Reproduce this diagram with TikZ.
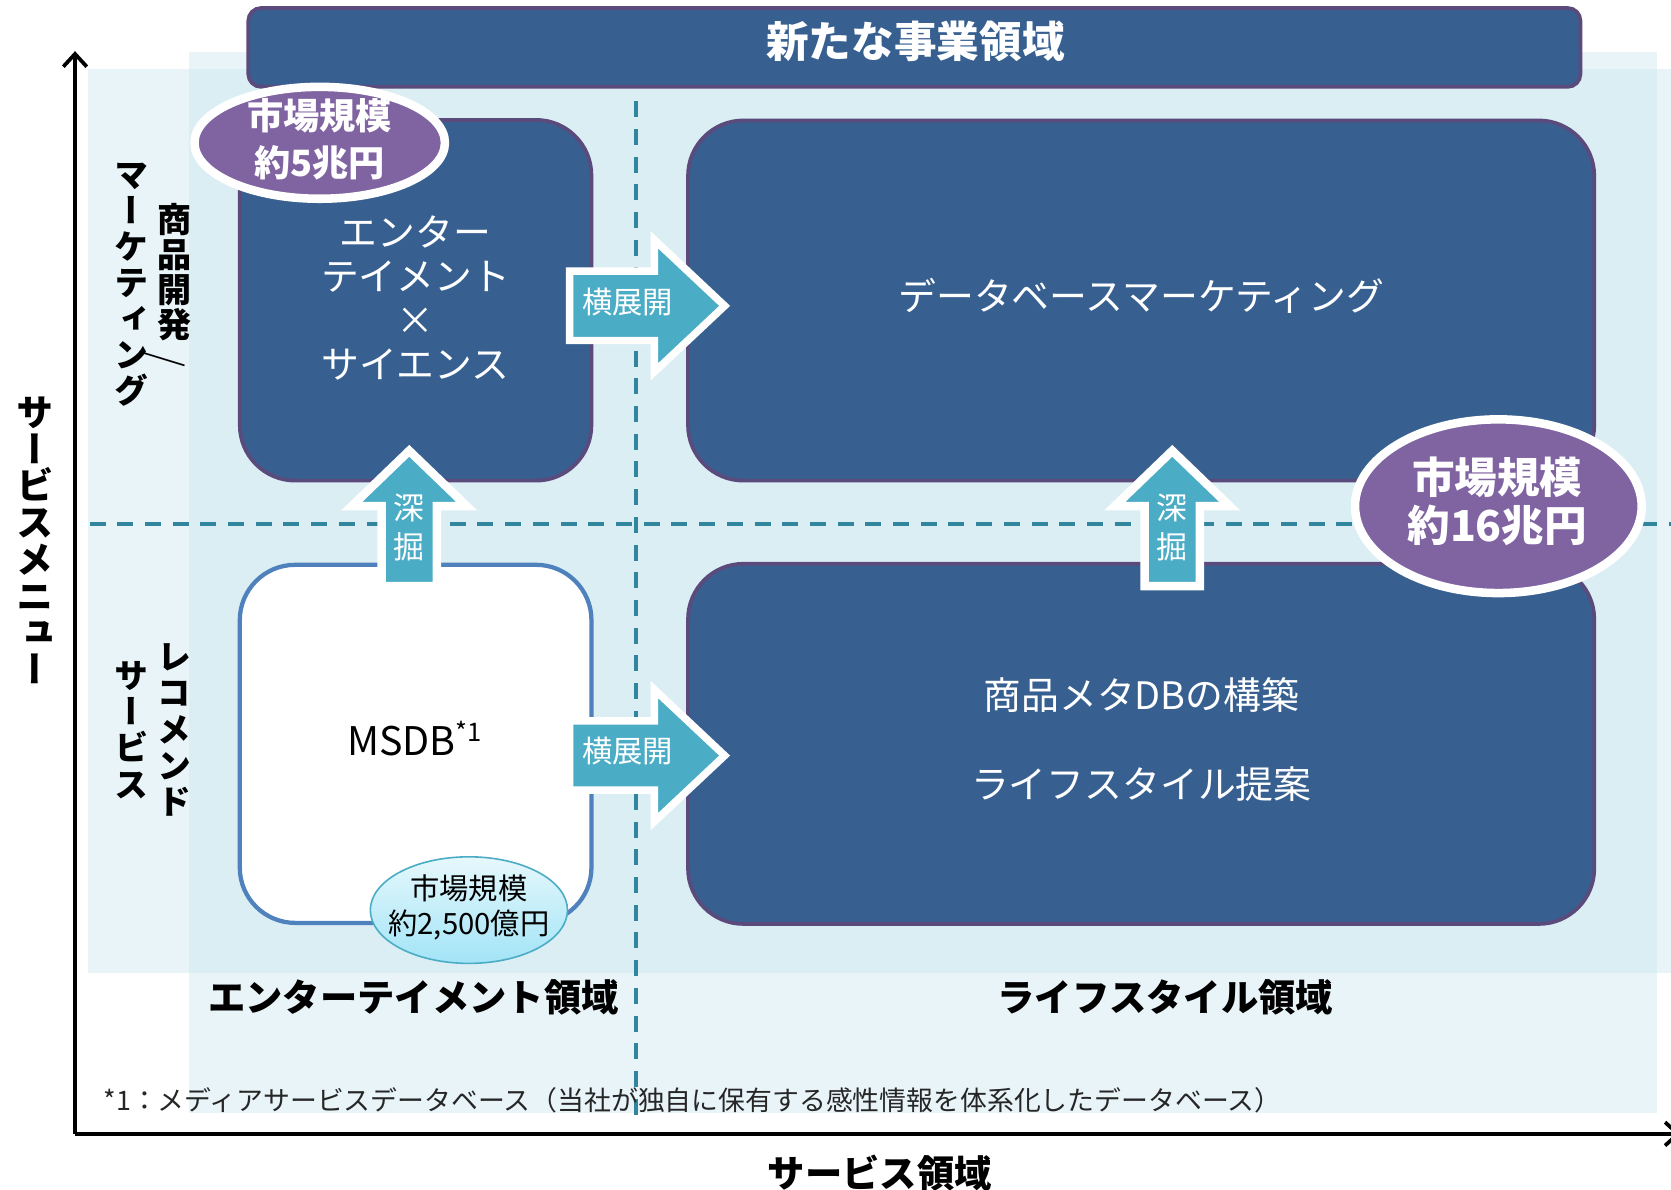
\documentclass[tikz,border=0pt]{standalone}
\usepackage{fontspec}
\setmainfont{Noto Sans CJK JP}
\newfontfamily\jpv[RawFeature=+vert]{Noto Sans CJK JP}
\usetikzlibrary{arrows.meta,shapes.geometric}
\definecolor{boxblue}{HTML}{376091}
\definecolor{boxedge}{HTML}{5B4A7C}
\definecolor{ellpurple}{HTML}{8064A2}
\definecolor{arrteal}{HTML}{4BACC6}
\definecolor{dashteal}{HTML}{31859C}
\definecolor{bgblue}{HTML}{C5E4EE}
\definecolor{msdbedge}{HTML}{4F81BD}
\definecolor{cyantop}{HTML}{E6F8FC}
\definecolor{cyanbot}{HTML}{A2E4F7}
\tikzset{
  bgfill/.style={fill=bgblue, fill opacity=0.4},
  dashln/.style={draw=dashteal, line width=3.5pt, dash pattern=on 15pt off 11pt},
  qbox/.style={draw=boxedge, fill=boxblue, line width=3.5pt, rounded corners=52pt, inner sep=0pt},
  msdbbox/.style={draw=msdbedge, fill=white, line width=4pt, rounded corners=52pt, inner sep=0pt},
  blockarr/.style={fill=arrteal, draw=white, line join=miter},
  bigell/.style={ellipse, draw=white, fill=ellpurple, line width=8pt, inner sep=0pt},
  smallell/.style={ellipse, draw=arrteal, line width=1.5pt, top color=cyantop, bottom color=cyanbot, inner sep=0pt},
  wtxt/.style={text=white, inner sep=0pt, align=center},
  btxt/.style={text=black, inner sep=0pt, align=center},
  vtxt/.style={text=black, inner sep=0pt, align=center},
  axisln/.style={draw=black, line width=3.5pt, -{Straight Barb[length=12pt,width=22pt]}},
}
\begin{document}
\begin{tikzpicture}[x=1pt,y=-1pt]
\useasboundingbox (0,0) rectangle (1568,1116);
% background panels
\fill[bgfill] (82.6,64.7) rectangle (1568,913);
\fill[bgfill] (177.3,48.8) rectangle (1555,1044.5);
% dashed quadrant lines
\coordinate (vtop) at (597,95);
\coordinate (vbot) at (597,1056);
\coordinate (hleft) at (84,492);
\coordinate (hright) at (1568,492);
\draw[dashln] (vtop) -- (vbot);
\draw[dashln] (hleft) -- (hright);
% axes
\coordinate (origin) at (70.4,1064);
\coordinate (ytop) at (70.4,48);
\coordinate (xend) at (1577,1064);
\draw[axisln] (origin) -- (ytop);
\draw[axisln] (origin) -- (xend);
% boxes
\node[qbox, minimum width=1250pt, minimum height=74pt, rounded corners=12pt] (banner) at (858,44.5) {};
\node[qbox, minimum width=330pt, minimum height=338.5pt] (ent) at (390,281.75) {};
\node[qbox, minimum width=850.4pt, minimum height=338pt] (dbm) at (1070.8,282) {};
\node[msdbbox, minimum width=330pt, minimum height=336pt] (msdb) at (390,698) {};
\node[qbox, minimum width=850.4pt, minimum height=338pt] (life) at (1070.8,698) {};
% block arrows
\draw[blockarr, line width=7pt] (534.5,254.5) -- (614,254.5) -- (614,225) -- (680,287) -- (614,349) -- (614,319.5) -- (534.5,319.5) -- cycle;
\draw[blockarr, line width=7pt] (534.5,676.5) -- (614,676.5) -- (614,647) -- (680,709) -- (614,771) -- (614,741.5) -- (534.5,741.5) -- cycle;
\draw[blockarr, line width=8pt] (358,550) -- (358,475) -- (330,475) -- (384,423) -- (438,475) -- (410,475) -- (410,550) -- cycle;
\draw[blockarr, line width=8pt] (1074,550) -- (1074,475) -- (1046,475) -- (1100,423) -- (1154,475) -- (1126,475) -- (1126,550) -- cycle;
% market size ellipses
\node[bigell, minimum width=235pt, minimum height=105pt] (mkt5) at (300,134) {};
\node[bigell, minimum width=269pt, minimum height=163pt] (mkt16) at (1406,475) {};
\node[smallell, minimum width=185pt, minimum height=100pt] (mkt25) at (440,854) {};
% texts
\node[wtxt, font=\bfseries\fontsize{40}{40}\selectfont] (tnew) at (859,38.5) {新たな事業領域};
\node[wtxt, font=\bfseries\fontsize{34}{43.5}\selectfont] (t5) at (300,130.75) {市場規模\\約5兆円};
\node[wtxt, font=\bfseries\fontsize{40}{45.5}\selectfont] (t16) at (1405,470.25) {市場規模\\約16兆円};
\node[btxt, font=\fontsize{27.5}{33}\selectfont] (t25) at (440,851.5) {市場規模\\約2,500億円};
\node[wtxt, font=\fontsize{35.5}{41.3}\selectfont] (tent) at (390,280) {エンター\\テイメント\\×\\サイエンス};
\node[wtxt, font=\fontsize{35.5}{35.5}\selectfont] (tdbm) at (1071,278) {データベースマーケティング};
\node[wtxt, font=\fontsize{35.5}{84}\selectfont] (tlife) at (1071,694) {商品メタDBの構築\\ライフスタイル提案};
\node[btxt, font=\fontsize{37}{37}\selectfont] (tmsdb) at (389,693) {MSDB\raisebox{13pt}{\fontsize{24}{24}\selectfont *1}};
\node[wtxt, font=\fontsize{28.5}{28.5}\selectfont] (ty1) at (589,283) {横展開};
\node[wtxt, font=\fontsize{28.5}{28.5}\selectfont] (ty2) at (589,704.5) {横展開};
\node[wtxt, font=\fontsize{29}{36}\selectfont] (tf1) at (384,495) {深\\掘};
\node[wtxt, font=\fontsize{29}{36}\selectfont] (tf2) at (1100,495) {深\\掘};
% vertical labels
\node[vtxt, font=\jpv\bfseries\fontsize{32}{33}\selectfont] (vmk1) at (163.5,272) {商\\品\\開\\発\\\smash{\raisebox{1pt}{\rotatebox[origin=c]{-62}{\rmfamily\bfseries ／}}}\vphantom{発}\hspace*{20pt}};
\node[vtxt, font=\jpv\bfseries\fontsize{32}{33.7}\selectfont] (vmk2) at (123,267) {マ\\ー\\ケ\\テ\\ィ\\ン\\グ};
\node[vtxt, font=\jpv\bfseries\fontsize{32}{34}\selectfont] (vrc1) at (164,685) {レ\\コ\\メ\\ン\\ド};
\node[vtxt, font=\jpv\bfseries\fontsize{32}{34}\selectfont] (vrc2) at (123,685) {サ\\ー\\ビ\\ス};
\node[vtxt, font=\jpv\bfseries\fontsize{35}{34.5}\selectfont] (ylab) at (33,507) {サ\\ー\\ビ\\ス\\メ\\ニ\\ュ\\ー};
% region and axis labels
\node[btxt, font=\bfseries\fontsize{35}{35}\selectfont] (rent) at (388,936) {エンターテイメント領域};
\node[btxt, font=\bfseries\fontsize{35}{35}\selectfont] (rlife) at (1093.5,936) {ライフスタイル領域};
\node[btxt, font=\bfseries\fontsize{35}{35}\selectfont] (xlab) at (825.5,1101) {サービス領域};
\node[btxt, anchor=west, text=black!85, font=\fontsize{25.2}{25.2}\selectfont] (fn) at (97,1032) {*1：メディアサービスデータベース（当社が独自に保有する感性情報を体系化したデータベース）};
\end{tikzpicture}
\end{document}
